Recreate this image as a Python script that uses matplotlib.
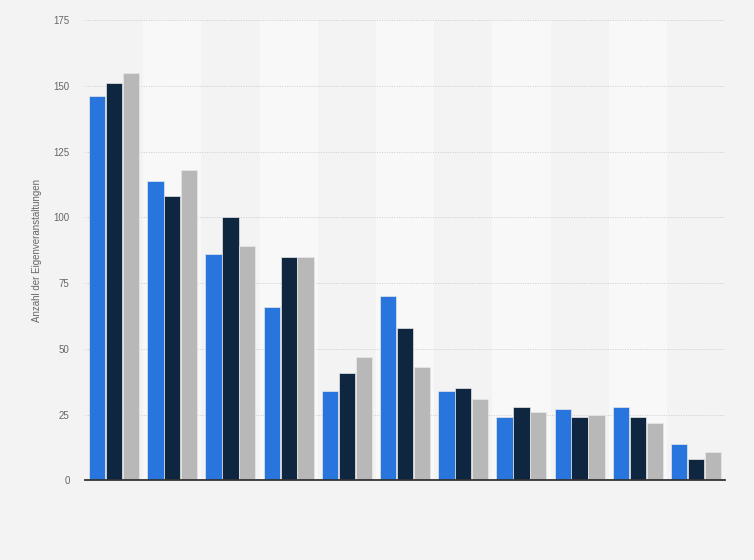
import numpy as np
import matplotlib.pyplot as plt

plt.rcParams['font.family'] = ['Liberation Sans', 'DejaVu Sans']

# values (11 groups, 3 series, no category labels shown)
groups = np.arange(11)
series_a = [146, 114, 86, 66, 34, 70, 34, 24, 27, 28, 14]
series_b = [151, 108, 100, 85, 41, 58, 35, 28, 24, 24, 8]
series_c = [155, 118, 89, 85, 47, 43, 31, 26, 25, 22, 11]
colors = ['#2876dd', '#0f2640', '#b8b8b8']
y_ticks = [0, 25, 50, 75, 100, 125, 150, 175]

fig = plt.figure(figsize=(7.54, 5.6), dpi=100, facecolor='#f3f3f3')
ax = fig.add_axes([0.1127, 0.142, 0.849, 0.8223])
ax.set_facecolor('#f3f3f3')

# alternating column bands
for g in groups:
    if g % 2 == 1:
        ax.axvspan(g - 0.5, g + 0.5, color='#f8f8f8', zorder=0, lw=0)

width = 0.28
offsets = [-0.29, 0.0, 0.29]
for vals, off, c in zip([series_a, series_b, series_c], offsets, colors):
    ax.bar(groups + off, vals, width=width, color=c, edgecolor='#e8e8e8',
           linewidth=0.5, zorder=3)

ax.set_xlim(-0.5, len(groups) - 0.5)
ax.set_ylim(0, 175)
ax.set_yticks(y_ticks)
ax.set_xticks([])
ax.yaxis.grid(True, linestyle=(0, (1, 1.5)), color='#cccccc', linewidth=0.7, zorder=1)
ax.set_axisbelow(True)
ax.tick_params(axis='y', length=0, pad=11, labelsize=7, labelcolor='#666666')

for s in ['top', 'right', 'left']:
    ax.spines[s].set_visible(False)
ax.spines['bottom'].set_color('#333333')
ax.spines['bottom'].set_linewidth(1.3)
ax.spines['bottom'].set_zorder(4)

ax.set_ylabel('Anzahl der Eigenveranstaltungen', fontsize=7, color='#666666', labelpad=8)

plt.savefig('out.png', dpi=100, facecolor=fig.get_facecolor())
